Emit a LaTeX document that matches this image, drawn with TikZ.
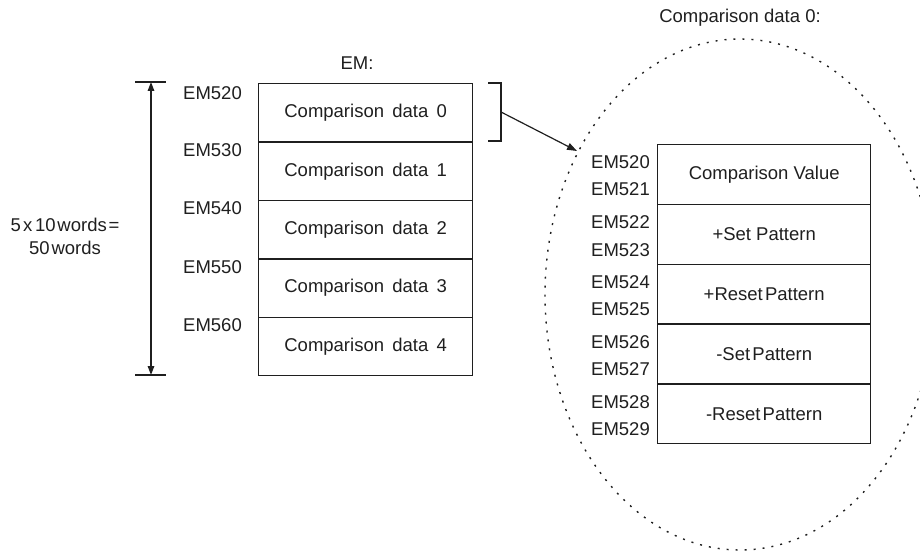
\documentclass[tikz,border=0pt]{standalone}
\usepackage{fontspec}
\setmainfont{Liberation Sans}
\usetikzlibrary{arrows.meta,shapes.geometric}
\begin{document}
\begin{tikzpicture}[x=1pt,y=-1pt,
  every node/.style={font=\fontsize{18.5}{20}\selectfont, text=black!88, inner sep=0pt},
  cell/.style={draw=black!88, line width=1.4pt, minimum width=214pt, minimum height=58.4pt, anchor=north west},
  rcell/.style={draw=black!88, line width=1.4pt, minimum width=213pt, minimum height=59.8pt, anchor=north west},
  lab/.style={anchor=east},
  ln/.style={draw=black!88, line width=1.4pt},
  tip/.style={-{Triangle[length=10pt,width=7pt]}}
]
\useasboundingbox (0,0) rectangle (920,553);
\clip (0,0) rectangle (920,553);

% left memory blocks
\node[cell] (d0) at (258,83) {Comparison\hskip0.45em data\hskip0.45em 0};
\node[cell] (d1) at (258,141.4) {Comparison\hskip0.45em data\hskip0.45em 1};
\node[cell] (d2) at (258,199.8) {Comparison\hskip0.45em data\hskip0.45em 2};
\node[cell] (d3) at (258,258.2) {Comparison\hskip0.45em data\hskip0.45em 3};
\node[cell] (d4) at (258,316.6) {Comparison\hskip0.45em data\hskip0.45em 4};
\node (em) at (357,63) {EM:};

\node[lab] (l0) at (242,93) {EM520};
\node[lab] (l1) at (242,150.5) {EM530};
\node[lab] (l2) at (242,208.5) {EM540};
\node[lab] (l3) at (242,267) {EM550};
\node[lab] (l4) at (242,325.5) {EM560};

% dimension arrow
\coordinate (atop) at (151,82);
\coordinate (abot) at (151,375);
\coordinate (t1a) at (135,82); \coordinate (t1b) at (166,82);
\coordinate (t2a) at (135,375); \coordinate (t2b) at (166,375);
\draw[ln] (t1a) -- (t1b);
\draw[ln] (t2a) -- (t2b);
\draw[ln, {Triangle[length=9pt,width=6.5pt]}-{Triangle[length=9pt,width=6.5pt]}] (atop) -- (abot);
\node[align=center, font=\fontsize{18.5}{23}\selectfont] (words) at (65,236.5) {5\hskip0.12em x\hskip0.15em 10\hskip0.1em words\hskip0.1em =\\50\hskip0.1em words};

% bracket and arrow
\coordinate (b1) at (488,83); \coordinate (b2) at (501,83);
\coordinate (b3) at (501,141); \coordinate (b4) at (488,141);
\coordinate (bm) at (501,112);
\coordinate (tipend) at (577,151);
\draw[ln] (b1) -- (b2) -- (b3) -- (b4);
\draw[ln, tip, line width=1.2pt] (bm) -- (tipend);

% ellipse
\node[draw=black!88, ellipse, line width=1.4pt, dash pattern=on 2pt off 7pt, minimum width=390pt, minimum height=511pt] (ell) at (740,294.5) {};
\node (ct) at (740,18) {Comparison data 0:};

% right detail blocks
\node[rcell] (r0) at (657,144) {Comparison Value};
\node[rcell] (r1) at (657,203.8) {+Set Pattern};
\node[rcell] (r2) at (657,263.6) {+Reset\hskip0.12em Pattern};
\node[rcell] (r3) at (657,323.4) {-Set\hskip0.12em Pattern};
\node[rcell] (r4) at (657,383.2) {-Reset\hskip0.12em Pattern};

\node[lab] (e0) at (650,162) {EM520};
\node[lab] (e1) at (650,189) {EM521};
\node[lab] (e2) at (650,222.5) {EM522};
\node[lab] (e3) at (650,250) {EM523};
\node[lab] (e4) at (650,282) {EM524};
\node[lab] (e5) at (650,309) {EM525};
\node[lab] (e6) at (650,342) {EM526};
\node[lab] (e7) at (650,369) {EM527};
\node[lab] (e8) at (650,402) {EM528};
\node[lab] (e9) at (650,429) {EM529};
\end{tikzpicture}
\end{document}
